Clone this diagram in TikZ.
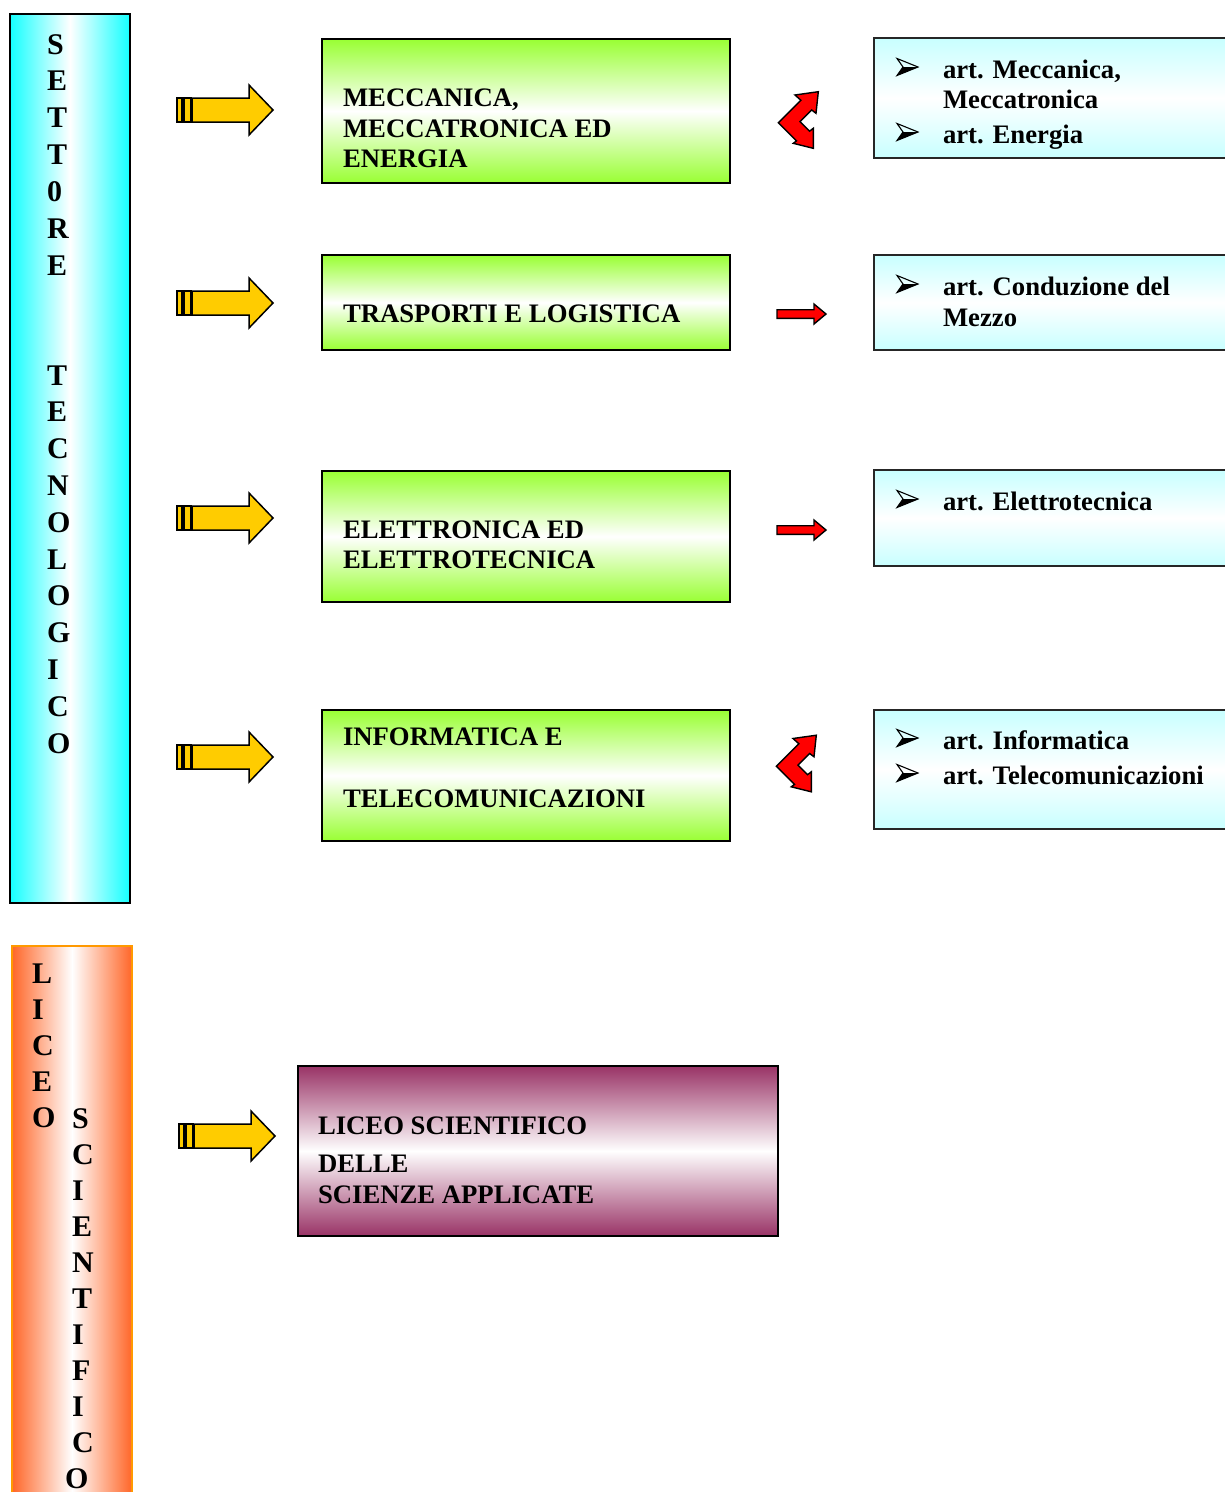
\documentclass[tikz,border=0pt]{standalone}
\usepackage{fontspec}
\setmainfont{Liberation Serif}
\definecolor{ygreen}{RGB}{153,255,51}
\definecolor{lcyan}{RGB}{200,255,255}
\definecolor{cyanedge}{RGB}{20,255,255}
\definecolor{orng}{RGB}{255,102,40}
\definecolor{orngborder}{RGB}{255,153,0}
\definecolor{maroonc}{RGB}{153,51,102}
\definecolor{yarrowc}{RGB}{255,204,0}
\tikzset{
  lbl/.style={inner sep=0pt, outer sep=0pt, font=\fontsize{26.7}{30}\selectfont\bfseries},
  vlet/.style={inner sep=0pt, outer sep=0pt, anchor=base west, font=\fontsize{30}{32}\selectfont\bfseries},
  boxbase/.style={rectangle, anchor=north west, inner sep=0pt, outer sep=0pt},
  greenbox/.style={boxbase, draw=black, line width=2pt, top color=ygreen, bottom color=ygreen, middle color=white, minimum width=408pt},
  bluebox/.style={boxbase, draw=black!85, line width=1.6pt, top color=lcyan, bottom color=lcyan, middle color=white, minimum width=400pt},
  yast/.style={fill=yarrowc, draw=black, line width=1.5pt, line join=miter},
  rast/.style={fill=red, draw=black, line width=1.4pt, line join=miter},
  yellowarrow/.pic={
    \draw[yast] (0,-12) rectangle (5,12);
    \draw[yast] (7,-12) rectangle (14,12);
    \draw[yast] (15,-12) -- (72,-12) -- (72,-25) -- (96,0) -- (72,25) -- (72,12) -- (15,12) -- cycle;
  },
  redarrow/.pic={
    \draw[rast] (0,-4.3) -- (37,-4.3) -- (37,-10) -- (49,0) -- (37,10) -- (37,4.3) -- (0,4.3) -- cycle;
  },
  redbend/.pic={
    \draw[rast] (0.3,31.7) -- (22.8,9.2) -- (17,4) -- (40.3,0.7) -- (38,22.3) -- (33.7,19) -- (22,30.7) -- (31.5,40.2) -- (35.3,37.3) -- (35.3,57.3) -- (15.3,52.3) -- (18.5,49.9) -- cycle;
  },
  bulletpic/.pic={
    \fill[black] (6,0) -- (21,0) -- (0,8.5) -- cycle;
    \draw[black, line width=1.1pt, line join=miter] (0,-8.5) -- (21,0) -- (0,8.5) -- (6,0) -- cycle;
  }
}
\begin{document}
\begin{tikzpicture}[x=1pt, y=-1pt]
\useasboundingbox (0,0) rectangle (1225,1492);
\clip (0,0) rectangle (1225,1492);
\fill[white] (0,0) rectangle (1225,1492);

% left panels
\node[boxbase, draw=black, line width=1.6pt, left color=cyanedge, right color=cyanedge, middle color=white, minimum width=120pt, minimum height=889pt] (p1) at (10,14) {};
\node[boxbase, draw=orngborder, line width=2.2pt, left color=orng, right color=orng, middle color=white, minimum width=120pt, minimum height=620pt] (p2) at (12,946) {};

\foreach \l [count=\i from 0] in {S,E,T,T,0,R,E}
  \node[vlet] (st\i) at (47,{54+36.9*\i}) {\l};
\foreach \l [count=\i from 0] in {T,E,C,N,O,L,O,G,I,C,O}
  \node[vlet] (tc\i) at (47,{385+36.8*\i}) {\l};
\foreach \l [count=\i from 0] in {L,I,C,E,O}
  \node[vlet] (lc\i) at (32,{983+36.2*\i}) {\l};
\foreach \l [count=\i from 0] in {S,C,I,E,N,T,I,F,I,C}
  \node[vlet] (sc\i) at (72,{1128+36*\i}) {\l};
\node[vlet] (sc10) at (65,1488) {O};

% yellow arrows
\pic (ya1) at (177,110) {yellowarrow};
\pic (ya2) at (177,303) {yellowarrow};
\pic (ya3) at (177,518) {yellowarrow};
\pic (ya4) at (177,757) {yellowarrow};
\pic (ya5) at (179,1136) {yellowarrow};

% green boxes
\node[greenbox, minimum height=144pt] (g1) at (322,39) {};
\node[greenbox, minimum height=95pt] (g2) at (322,255) {};
\node[greenbox, minimum height=131pt] (g3) at (322,471) {};
\node[greenbox, minimum height=131pt] (g4) at (322,710) {};

\node[lbl, anchor=base west] (g1a) at (343,106) {MECCANICA,};
\node[lbl, anchor=base west] (g1b) at (343,137) {MECCATRONICA ED};
\node[lbl, anchor=base west] (g1c) at (343,167) {ENERGIA};
\node[lbl, anchor=base west] (g2a) at (343,322) {TRASPORTI E LOGISTICA};
\node[lbl, anchor=base west] (g3a) at (343,538) {ELETTRONICA ED};
\node[lbl, anchor=base west] (g3b) at (343,568) {ELETTROTECNICA};
\node[lbl, anchor=base west] (g4a) at (343,745) {INFORMATICA E};
\node[lbl, anchor=base west] (g4b) at (343,807) {TELECOMUNICAZIONI};

% red arrows
\pic (rb1) at (778,91) {redbend};
\pic (ra2) at (777,314) {redarrow};
\pic (ra3) at (777,530) {redarrow};
\pic (rb4) at (776,734.5) {redbend};

% blue boxes
\node[bluebox, minimum height=120pt] (b1) at (874,38) {};
\node[bluebox, minimum height=95pt] (b2) at (874,255) {};
\node[bluebox, minimum height=96pt] (b3) at (874,470) {};
\node[bluebox, minimum height=119pt] (b4) at (874,710) {};

\pic (k1) at (897,67) {bulletpic};
\node[lbl, anchor=base west] (b1a) at (943,78) {art. Meccanica,};
\node[lbl, anchor=base west] (b1b) at (943,108) {Meccatronica};
\pic (k2) at (897,132) {bulletpic};
\node[lbl, anchor=base west] (b1c) at (943,143) {art. Energia};
\pic (k3) at (897,284) {bulletpic};
\node[lbl, anchor=base west] (b2a) at (943,295) {art. Conduzione del};
\node[lbl, anchor=base west] (b2b) at (943,326) {Mezzo};
\pic (k4) at (897,499) {bulletpic};
\node[lbl, anchor=base west] (b3a) at (943,510) {art. Elettrotecnica};
\pic (k5) at (897,738) {bulletpic};
\node[lbl, anchor=base west] (b4a) at (943,749) {art. Informatica};
\pic (k6) at (897,773) {bulletpic};
\node[lbl, anchor=base west] (b4b) at (943,784) {art. Telecomunicazioni};

% liceo box
\node[boxbase, draw=black, line width=2pt, top color=maroonc, bottom color=maroonc, middle color=white, minimum width=480pt, minimum height=170pt] (lb) at (298,1066) {};
\node[lbl, anchor=base west] (lb1) at (318,1134) {LICEO SCIENTIFICO};
\node[lbl, anchor=base west] (lb2) at (318,1172) {DELLE};
\node[lbl, anchor=base west] (lb3) at (318,1203) {SCIENZE APPLICATE};
\end{tikzpicture}
\end{document}
